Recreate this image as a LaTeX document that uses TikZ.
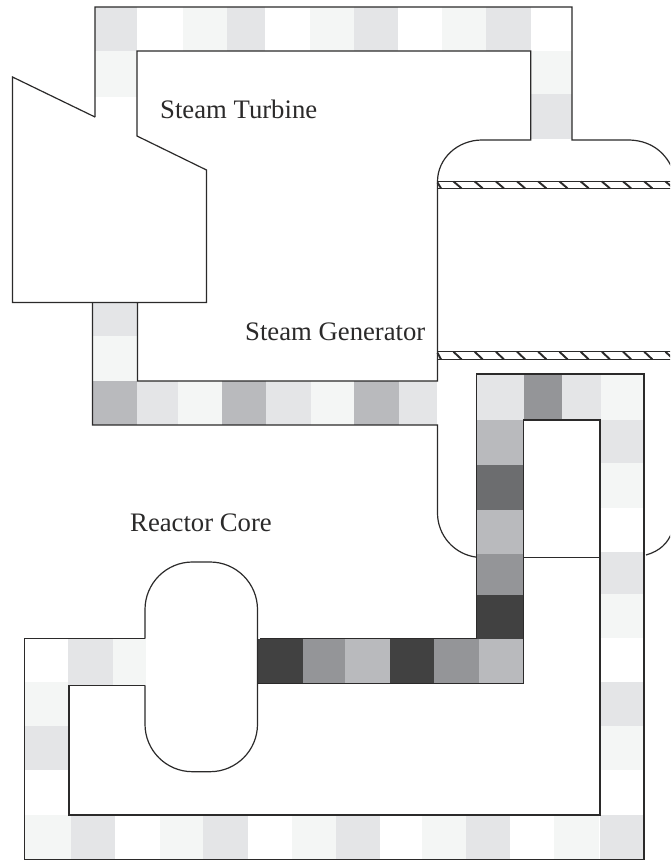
\documentclass[tikz,border=0pt]{standalone}
\usepackage{fontspec}
\setmainfont{Liberation Serif}
\definecolor{ink}{HTML}{2B2A2A}
\definecolor{cA}{HTML}{F4F6F5}
\definecolor{cB}{HTML}{E4E5E7}
\definecolor{cC}{HTML}{B9BABD}
\definecolor{cD}{HTML}{949598}
\definecolor{cE}{HTML}{6C6D6F}
\definecolor{cF}{HTML}{414141}
\tikzset{
  wall/.style={draw=ink,line width=1.2pt,line join=miter},
  hatchline/.style={draw=ink,line width=1.9pt},
  lbl/.style={anchor=base west,inner sep=0pt,text=ink,font=\fontsize{26.7}{28}\selectfont}
}
% horizontal run: y0, y1, list of x0/x1/colour
\newcommand{\hrun}[3]{\foreach \a/\b/\c in {#3}{\fill[\c] (\a,#1) rectangle (\b,#2);}}
\newcommand{\vrun}[3]{\foreach \a/\b/\c in {#3}{\fill[\c] (#1,\a) rectangle (#2,\b);}}
\begin{document}
\begin{tikzpicture}[x=1pt,y=-1pt]
\useasboundingbox (0,0) rectangle (670,860);
\clip (0,0) rectangle (670,860);
\fill[white] (0,0) rectangle (670,860);
% ---- top steam pipe cells
\hrun{7}{51}{95/137/cB,183/227/cA,227/265/cB,310/354/cA,354/398/cB,442/486/cA,486/531/cB}
\vrun{95}{137}{51/97/cA}
\vrun{531}{572}{51/94/cA,94/139/cB}
% ---- lower-left return pipe cells
\vrun{92.5}{137}{302.5/336/cB,336/381/cA}
\hrun{381}{425}{92.5/137/cC,137/178/cB,178/222/cA,222/266/cC,266/311/cB,311/354/cA,354/399/cC,399/437/cB}
% ---- primary loop cells
\hrun{374}{420}{477/524/cB,524/562/cD,562/601/cB,601/644/cA}
\vrun{477}{523.5}{420/465/cC,465/510/cE,510/554/cC,554/595/cD,595/639/cF}
\hrun{639}{684}{258/303/cF,303/345/cD,345/390/cC,390/434/cF,434/479/cD,479/523.5/cC}
\vrun{600}{644}{420/463/cB,463/508/cA,552/594/cB,594/638/cA,682/726/cB,726/770/cA,815/859/cB}
\hrun{815}{859}{25/71/cA,71/115/cB,160/203/cA,203/248/cB,292/336/cA,336/380/cB,422/466/cA,466/510/cB,554/599/cA}
\vrun{25}{69}{682/726/cA,726/770/cB}
\hrun{639}{685}{68/113/cB,113/146/cA}
% ---- turbine and steam pipe
\draw[wall] (95,117) -- (95,7) -- (572,7) -- (572,140) -- (628,140)
  .. controls (648,140) and (664,150) .. (672,168);
\draw[wall] (95,117) -- (12.5,77) -- (12.5,302.5) -- (206.5,302.5) -- (206.5,170) -- (137,136) -- (137,51) -- (530.7,51) -- (530.7,140) -- (482,140)
  arc[start angle=270,end angle=180,x radius=44.5,y radius=41.5] -- (437.5,381) -- (137.5,381) -- (137.5,302.5);
\draw[wall] (92.5,302.5) -- (92.5,425) -- (437.5,425) -- (437.5,513)
  arc[start angle=180,end angle=97,radius=44.5];
% ---- generator tube sheets
\foreach \ya/\yb in {181.5/188.3,351.8/359.3}{
  \draw[wall] (437.5,\ya) -- (672,\ya);
  \draw[wall] (437.5,\yb) -- (672,\yb);
  \draw[hatchline] (437.5,\ya+1) -- (441,\yb);
  \foreach \hx in {0,...,10}{
    \draw[hatchline] ({453.5+21.2*\hx},\ya) -- ({461.5+21.2*\hx},\yb);
  }
}
% ---- generator lower right dome
\draw[wall] (646,555) .. controls (660,551) and (668,543) .. (672,532);
\draw[wall] (523.5,557.5) -- (600,557.5);
% ---- primary loop
\draw[wall] (260,638.5) -- (476.7,638.5) -- (476.7,374) -- (644,374) -- (644,859.3) -- (24.5,859.3) -- (24.5,638.5) -- (145,638.5);
\draw[wall] (145,685.3) -- (69,685.3) -- (69,815) -- (600,815) -- (600,420) -- (523.5,420) -- (523.5,683.5) -- (258,683.5);
% ---- reactor core
\draw[wall] (145,638.5) -- (145,609.5) arc[start angle=180,end angle=270,radius=47.5] -- (210,562)
  arc[start angle=270,end angle=360,radius=47.5] -- (257.5,724.2)
  arc[start angle=0,end angle=90,radius=47.5] -- (192.5,771.7)
  arc[start angle=90,end angle=180,radius=47.5] -- (145,685.3);
% ---- labels
\node[lbl] (turbine) at (160,118) {Steam Turbine};
\node[lbl] (generator) at (245,340) {Steam Generator};
\node[lbl] (core) at (130,531.5) {Reactor Core};
\end{tikzpicture}
\end{document}
